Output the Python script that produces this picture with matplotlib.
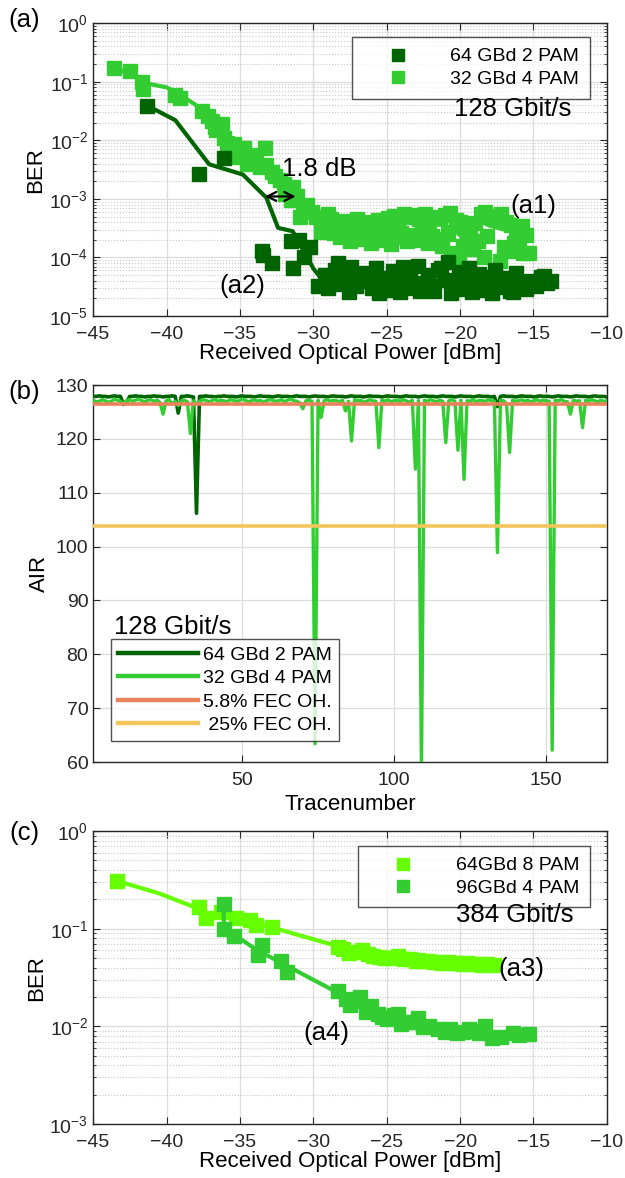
import numpy as np
import matplotlib
matplotlib.use("Agg")
import matplotlib.pyplot as plt

plt.rcParams['font.family'] = ['Liberation Sans', 'DejaVu Sans']
plt.rcParams['mathtext.fontset'] = 'custom'
plt.rcParams['mathtext.rm'] = 'Liberation Sans'
plt.rcParams['mathtext.it'] = 'Liberation Sans:italic'
plt.rcParams['axes.linewidth'] = 1.0

dark = '#006400'
lgreen = '#33CC33'
lime = '#66FF00'
orange = '#E8825A'
yellow = '#F3C55A'

# ---------------- (a) 128 Gbit/s BER vs received power
p32 = [-43.6, -42.5, -41.7, -41.6, -39.4, -39.1, -37.6, -37.2, -36.9, -36.7,
       -36.6, -36.2, -36.1, -35.9, -35.7, -35.4, -35.1, -34.9, -34.7, -34.5,
       -34.2, -33.9, -33.6, -33.3, -33.2, -32.8, -32.6, -32.3, -32.0, -31.9,
       -31.5, -31.4, -31.1, -30.9, -30.7, -30.4, -30.1, -29.8, -29.5, -29.3,
       -29.0, -28.4, -27.5,
       -28.8, -28.4, -28.0, -27.7, -27.3, -27.0, -26.6, -26.3, -25.9, -25.6,
       -25.2, -24.9, -24.5, -24.2, -23.8, -23.5, -23.1, -22.8, -22.4, -22.1,
       -21.7, -21.4, -21.0, -20.7, -20.3, -20.0, -19.7, -19.3, -19.0, -18.6,
       -18.3, -17.9, -17.6, -17.2, -16.9, -16.5, -16.2, -15.8, -15.5,
       -28.6, -28.2, -27.9, -27.5, -27.1, -26.8, -26.4, -26.1, -25.7, -25.4,
       -25.0, -24.7, -24.3, -24.0, -23.6, -23.3, -22.9, -22.6, -22.2, -21.9,
       -21.5, -21.2, -20.8, -20.6, -20.1, -19.8, -19.5, -19.1, -18.8, -18.4,
       -18.2, -17.3, -17.0, -16.7, -16.3, -16.0, -15.7, -15.3]
ber32 = [0.170, 0.155, 0.100, 0.074, 0.060, 0.052, 0.031, 0.026, 0.021, 0.017,
         0.015, 0.019, 0.011, 0.009, 0.0068, 0.0085, 0.0052, 0.0060, 0.0073, 0.0040,
         0.0055, 0.0049, 0.0035, 0.0073, 0.0038, 0.0029, 0.0025, 0.0021, 0.0018, 0.0012,
         0.00095, 0.0016, 0.0011, 0.0005, 0.00074, 0.0008, 0.0006, 0.00049, 0.00027, 0.00038,
         0.00055, 0.00038, 0.0002,
         4.5e-4, 3.8e-4, 4.2e-4, 3.5e-4, 4.0e-4, 4.6e-4, 3.6e-4, 4.1e-4, 3.3e-4, 4.4e-4,
         3.9e-4, 4.8e-4, 5.2e-4, 4.3e-4, 5.5e-4, 4.9e-4, 5.3e-4, 4.5e-4, 5.6e-4, 4.2e-4,
         5.0e-4, 4.7e-4, 5.4e-4, 5.8e-4, 4.4e-4, 4.0e-4, 3.2e-4, 2.6e-4, 3.8e-4, 5.5e-4,
         5.9e-4, 5.2e-4, 4.8e-4, 5.6e-4, 4.1e-4, 3.6e-4, 2.8e-4, 3.4e-4, 2.4e-4,
         2.6e-4, 2.2e-4, 2.9e-4, 1.9e-4, 2.4e-4, 2.1e-4, 2.7e-4, 1.8e-4, 2.3e-4, 2.0e-4,
         2.5e-4, 1.7e-4, 2.2e-4, 2.6e-4, 1.9e-4, 2.4e-4, 2.0e-4, 2.8e-4, 1.8e-4, 2.3e-4,
         2.1e-4, 1.6e-4, 2.5e-4, 1.2e-4, 1.0e-4, 1.6e-4, 2.2e-4, 1.4e-4, 1.9e-4, 1.0e-4,
         2.3e-4, 0.86e-4, 1.5e-4, 1.3e-4, 1.8e-4, 1.7e-4, 1.2e-4, 1.2e-4]

p64 = [-41.3, -37.8, -36.05, -33.5, -33.4, -32.8, -31.5, -31.0, -30.6, -31.4,
       -30.2, -29.7,
       -29.2, -28.8, -28.5, -28.1, -27.8, -27.4, -27.1, -26.7, -26.4, -26.0,
       -25.7, -25.3, -25.0, -24.6, -24.3, -23.9, -23.6, -23.2, -22.9, -22.5,
       -22.2, -21.8, -21.5, -21.1, -20.8, -20.4, -20.1, -19.7, -19.4, -19.0,
       -18.7, -18.3, -18.0, -17.6, -17.3, -16.9, -16.6, -16.2, -15.9, -15.5,
       -15.2, -14.8, -14.5, -14.1, -13.8,
       -29.0, -28.3, -27.6, -26.9, -26.2, -25.5, -24.8, -24.1, -23.4, -22.7,
       -22.0, -21.3, -20.6, -19.9, -19.2, -18.5, -17.8, -17.1, -16.4, -15.7,
       -14.3]
ber64 = [0.039, 0.0027, 0.005, 1.3e-4, 1.1e-4, 7.9e-5, 1.9e-4, 2.0e-4, 1.0e-4, 6.5e-5,
         1.5e-4, 3.2e-5,
         5.0e-5, 4.2e-5, 6.0e-5, 3.5e-5, 4.8e-5, 7.0e-5, 3.2e-5, 5.5e-5, 4.0e-5, 3.0e-5,
         6.5e-5, 3.8e-5, 2.8e-5, 5.8e-5, 3.4e-5, 6.8e-5, 4.5e-5, 3.0e-5, 7.2e-5, 3.6e-5,
         5.0e-5, 2.7e-5, 6.2e-5, 4.1e-5, 8.5e-5, 3.3e-5, 5.6e-5, 2.9e-5, 6.6e-5, 3.9e-5,
         5.2e-5, 2.8e-5, 4.6e-5, 6.0e-5, 3.1e-5, 4.4e-5, 2.7e-5, 5.4e-5, 3.5e-5, 2.9e-5,
         4.0e-5, 3.2e-5, 4.6e-5, 3.6e-5, 3.9e-5,
         3.0e-5, 8.0e-5, 2.6e-5, 4.2e-5, 5.0e-5, 2.5e-5, 4.5e-5, 2.6e-5, 5.3e-5, 2.7e-5,
         3.3e-5, 6.5e-5, 2.5e-5, 4.3e-5, 2.6e-5, 3.4e-5, 2.5e-5, 3.8e-5, 2.6e-5, 3.6e-5,
         4.8e-5]

fit32_p = [-43.6, -42.5, -41.5, -40.0, -39.3, -38.0, -37.0, -35.4, -33.8, -32.4,
           -31.0, -29.6, -28.0, -26.0, -24.0, -22.0, -21.0, -20.0, -19.5, -19.0,
           -18.5, -18.0, -17.0, -16.0]
fit32_ber = [0.17, 0.14, 0.095, 0.08, 0.065, 0.040, 0.015, 0.0070, 0.0038, 0.0018,
             0.00085, 0.00055, 0.00045, 0.00042, 0.00042, 0.00038, 0.00035, 0.00025, 0.00012, 0.00030,
             0.00040, 0.00035, 0.00030, 0.00025]
fit64_p = [-41.3, -39.4, -37.1, -34.8, -33.2, -32.4, -31.4, -30.0, -29.5, -28.3,
           -26.9, -26.1, -25.3, -24.0, -23.0, -22.0, -21.0, -20.0, -19.0, -18.0,
           -17.0, -16.0, -15.0, -13.9]
fit64_ber = [0.039, 0.022, 0.0039, 0.0026, 0.00105, 0.00032, 0.00028, 6.5e-5, 4.5e-5, 7.6e-5,
             4.0e-5, 6.8e-5, 3.1e-5, 3.4e-5, 4.0e-5, 3.6e-5, 3.8e-5, 3.5e-5, 3.7e-5, 3.4e-5,
             3.6e-5, 3.5e-5, 3.6e-5, 3.6e-5]

# ---------------- (b) AIR per trace
trace = list(range(1, 171))
air32 = [127.2, 126.9, 127.0, 127.3, 127.1, 126.8, 127.0, 127.4, 127.2, 127.0,
         126.6, 127.1, 127.3, 127.0, 127.2, 127.4, 127.1, 126.9, 127.2, 127.3,
         127.0, 127.2, 126.8, 124.6, 127.1, 127.3, 126.5, 127.0, 126.2, 127.1,
         127.2, 126.9, 121.0, 127.1, 126.5, 127.0, 127.3, 127.2, 126.9, 127.1,
         127.4, 127.0, 127.2, 127.1, 126.9, 127.3, 127.2, 127.0, 127.1, 127.4,
         127.2, 126.9, 127.1, 127.3, 127.0, 127.2, 126.8, 127.1, 127.3, 127.2,
         127.0, 127.1, 127.3, 126.9, 127.2, 127.4, 127.1, 127.0, 126.7, 125.6,
         127.1, 127.2, 127.0, 63.4, 127.2, 124.0, 127.1, 127.3, 127.0, 127.2,
         127.1, 126.9, 127.2, 125.2, 127.0, 119.6, 127.3, 127.1, 127.2, 126.8,
         127.0, 127.3, 127.1, 127.0, 118.4, 127.2, 127.0, 127.3, 126.9, 127.1,
         127.2, 127.0, 127.3, 127.1, 126.8, 127.2, 114.4, 127.1, 58.0, 127.2,
         127.0, 127.3, 127.1, 126.9, 127.2, 127.0, 119.3, 127.1, 127.3, 127.0,
         117.9, 127.2, 112.5, 127.1, 127.0, 127.3, 126.9, 127.2, 127.1, 127.0,
         127.3, 127.1, 127.0, 98.9, 127.2, 127.1, 126.5, 117.5, 127.2, 127.0,
         127.1, 127.3, 127.0, 127.2, 126.9, 127.1, 127.3, 127.0, 127.2, 127.1,
         127.0, 62.2, 127.2, 127.1, 127.3, 127.0, 126.9, 124.6, 127.2, 127.0,
         127.1, 122.1, 127.2, 127.0, 127.3, 127.1, 126.9, 127.2, 127.0, 127.1]
air64 = [127.9, 127.9, 128.0, 127.9, 127.9, 127.8, 127.9, 128.0, 127.9, 127.9,
         126.4, 126.8, 127.9, 127.9, 128.0, 127.9, 127.9, 127.8, 127.9, 127.9,
         128.0, 127.9, 127.9, 127.8, 127.9, 127.9, 128.0, 127.9, 124.8, 127.9,
         127.9, 128.0, 127.9, 127.8, 106.2, 127.9, 127.9, 128.0, 127.9, 127.9,
         127.8, 127.9, 127.9, 128.0, 127.9, 127.9, 127.9, 127.8, 127.9, 128.0,
         127.9, 127.9, 127.9, 127.8, 127.9, 128.0, 127.9, 127.9, 127.9, 127.8,
         127.9, 128.0, 127.9, 127.9, 127.9, 127.8, 127.9, 128.0, 127.9, 127.9,
         127.9, 127.8, 127.9, 128.0, 127.9, 127.9, 127.9, 127.8, 127.9, 128.0,
         127.9, 127.9, 127.9, 127.8, 127.9, 128.0, 127.9, 127.9, 127.9, 127.8,
         127.9, 128.0, 127.9, 127.9, 127.9, 127.8, 127.9, 128.0, 127.9, 127.9,
         127.9, 127.8, 127.9, 128.0, 127.9, 127.9, 127.9, 127.8, 127.9, 128.0,
         127.9, 127.9, 127.9, 127.8, 127.9, 128.0, 127.9, 127.9, 127.9, 127.8,
         127.9, 128.0, 127.9, 127.9, 127.9, 127.8, 127.9, 128.0, 127.9, 127.9,
         127.9, 127.8, 127.9, 126.0, 127.9, 128.0, 127.9, 127.9, 127.9, 127.8,
         127.9, 128.0, 127.9, 127.9, 127.9, 127.8, 127.9, 128.0, 127.9, 127.9,
         127.9, 127.8, 127.9, 128.0, 127.9, 127.9, 127.9, 127.8, 127.9, 128.0,
         127.9, 127.9, 127.9, 127.8, 127.9, 128.0, 127.9, 127.9, 127.9, 127.8]
fec58 = 126.4
fec25 = 103.9

# ---------------- (c) 384 Gbit/s
p8pam = [-43.4, -37.8, -37.3, -36.3, -35.3, -34.3, -33.9, -32.8, -28.3, -27.6,
         -26.7, -25.9, -25.1, -24.2, -23.4, -22.9, -22.2, -21.5, -20.8, -20.2,
         -19.5, -18.8, -18.2, -17.7,
         -28.0, -27.2, -26.3, -25.5, -24.6, -23.8, -23.0, -22.5, -21.8, -21.2,
         -20.5, -19.8, -19.2, -18.5]
ber8pam = [0.31, 0.166, 0.13, 0.15, 0.13, 0.123, 0.11, 0.105, 0.065, 0.056,
           0.060, 0.053, 0.050, 0.052, 0.049, 0.048, 0.047, 0.046, 0.046, 0.045,
           0.045, 0.044, 0.044, 0.043,
           0.062, 0.058, 0.055, 0.051, 0.050, 0.049, 0.047, 0.047, 0.046, 0.045,
           0.045, 0.044, 0.044, 0.043]
fit8_p = [-43.4, -40.5, -37.8, -37.0, -36.0, -34.5, -32.8, -30.5, -28.3, -26.0,
          -24.0, -22.0, -20.0, -17.7]
fit8_ber = [0.31, 0.23, 0.16, 0.14, 0.14, 0.12, 0.103, 0.082, 0.066, 0.056,
            0.051, 0.047, 0.045, 0.043]
p4pam = [-36.1, -36.1, -35.4, -33.8, -33.5, -32.2, -31.8, -28.3, -27.5, -26.8,
         -26.4, -25.3, -24.2, -24.0, -22.9, -22.1, -20.7, -19.4, -18.3, -17.8,
         -16.4, -15.3,
         -27.8, -27.0, -26.1, -25.6, -25.0, -24.5, -23.6, -23.2, -22.5, -21.5,
         -21.0, -20.2, -19.8, -19.0, -18.7, -17.2, -16.0]
ber4pam = [0.18, 0.10, 0.085, 0.054, 0.068, 0.047, 0.036, 0.023, 0.0166, 0.020,
           0.014, 0.0126, 0.0135, 0.0107, 0.0121, 0.0102, 0.0093, 0.0093, 0.0101, 0.0076,
           0.0086, 0.0083,
           0.019, 0.018, 0.016, 0.0135, 0.012, 0.013, 0.011, 0.0112, 0.0098, 0.0093,
           0.0088, 0.0086, 0.0088, 0.0090, 0.0085, 0.0078, 0.0082]
fit4_p = [-36.1, -36.1, -35.4, -33.8, -32.2, -30.0, -28.3, -27.0, -25.5, -24.0,
          -22.5, -21.0, -19.5, -18.0, -16.5, -15.3]
fit4_ber = [0.18, 0.11, 0.087, 0.060, 0.045, 0.030, 0.022, 0.017, 0.0135, 0.0115,
            0.0105, 0.0095, 0.0092, 0.0088, 0.0085, 0.0083]

TICK = 14
LAB = 16
ANN = 18.5
LEG = 14


def matlab_axes(ax, logy=False):
    ax.tick_params(which='both', direction='in', top=True, right=True,
                   labelsize=TICK, color='#262626', labelcolor='#262626')
    ax.tick_params(which='major', length=5)
    ax.tick_params(which='minor', length=2.5)
    ax.tick_params(axis='x', pad=7)
    ax.grid(True, which='major', color='#dcdcdc', lw=0.9)
    if logy:
        ax.grid(True, which='minor', axis='y', color='#c8c8c8', ls=':', lw=0.8)
    ax.set_axisbelow(True)
    for s in ax.spines.values():
        s.set_color('#262626')


fig = plt.figure(figsize=(6.25, 11.78), dpi=100)
axa = fig.add_axes([0.149, 0.7317, 0.822, 0.2487])
axb = fig.add_axes([0.149, 0.3531, 0.822, 0.3200])
axc = fig.add_axes([0.149, 0.0458, 0.822, 0.2487])

# (a)
axa.set_yscale('log')
matlab_axes(axa, logy=True)
ms = 9.5
axa.plot(p32, ber32, 's', color=lgreen, ms=ms, label='32 GBd 4 PAM', zorder=3)
axa.plot(fit32_p, fit32_ber, '-', color=lgreen, lw=3, zorder=3)
axa.plot(p64, ber64, 's', color=dark, ms=ms, label='64 GBd 2 PAM', zorder=4)
axa.plot(fit64_p, fit64_ber, '-', color=dark, lw=3, zorder=4)
axa.set_xlim(-45, -10)
axa.set_ylim(1e-5, 1)
axa.set_xticks(np.arange(-45, -9, 5))
axa.set_xlabel('Received Optical Power [dBm]', fontsize=LAB, labelpad=0)
axa.set_ylabel('BER', fontsize=LAB, labelpad=2)
h, l = axa.get_legend_handles_labels()
lg = axa.legend(h[::-1], l[::-1], loc='upper right', bbox_to_anchor=(0.967, 0.952),
                fontsize=LEG, frameon=True, fancybox=False, edgecolor='#262626',
                handlelength=3.6, handletextpad=0.9, labelspacing=0.25,
                borderpad=0.55, borderaxespad=0, markerscale=0.9)
lg.get_frame().set_linewidth(1.0)
axa.annotate('', xy=(-33.3, 1.1e-3), xytext=(-31.2, 1.1e-3),
             arrowprops=dict(arrowstyle='<->', color='black', lw=1.6,
                             mutation_scale=16, shrinkA=0, shrinkB=0), zorder=6)
axa.text(-32.1, 3.2e-3, '1.8 dB', fontsize=ANN, va='center', ha='left', zorder=6)
axa.text(-16.6, 7.5e-4, '(a1)', fontsize=ANN, va='center', ha='left', zorder=6)
axa.text(-36.4, 3.2e-5, '(a2)', fontsize=ANN, va='center', ha='left', zorder=6)
axa.text(-20.4, 3.4e-2, '128 Gbit/s', fontsize=ANN, va='center', ha='left', zorder=6)

# (b)
matlab_axes(axb)
axb.plot(trace, air64, '-', color=dark, lw=2.6, label='64 GBd 2 PAM', zorder=3)
axb.plot(trace, air32, '-', color=lgreen, lw=2.4, label='32 GBd 4 PAM', zorder=3)
axb.axhline(fec58, color=orange, lw=2.6, label='5.8% FEC OH.', zorder=4)
axb.axhline(fec25, color=yellow, lw=2.6, label=' 25% FEC OH.', zorder=4)
axb.set_xlim(1, 170)
axb.set_ylim(60, 130)
axb.set_xticks([50, 100, 150])
axb.set_yticks(np.arange(60, 131, 10))
axb.set_xlabel('Tracenumber', fontsize=LAB, labelpad=4)
axb.set_ylabel('AIR', fontsize=LAB, labelpad=4)
lg = axb.legend(loc='lower left', bbox_to_anchor=(0.035, 0.056), fontsize=LEG,
                frameon=True, fancybox=False, edgecolor='#262626',
                handlelength=4.1, handletextpad=0.3, labelspacing=0.3,
                borderpad=0.35, borderaxespad=0)
for ln in lg.get_lines():
    ln.set_linewidth(3.2)
lg.get_frame().set_linewidth(1.0)
axb.text(0.04, 0.357, '128 Gbit/s', transform=axb.transAxes, fontsize=ANN,
         va='center', ha='left')

# (c)
axc.set_yscale('log')
matlab_axes(axc, logy=True)
axc.plot(p8pam, ber8pam, 's', color=lime, ms=ms, label='64GBd 8 PAM', zorder=3)
axc.plot(fit8_p, fit8_ber, '-', color=lime, lw=3, zorder=3)
axc.plot(p4pam, ber4pam, 's', color=lgreen, ms=ms, label='96GBd 4 PAM', zorder=4)
axc.plot(fit4_p, fit4_ber, '-', color=lgreen, lw=3, zorder=4)
axc.set_xlim(-45, -10)
axc.set_ylim(1e-3, 1)
axc.set_xticks(np.arange(-45, -9, 5))
axc.set_xlabel('Received Optical Power [dBm]', fontsize=LAB, labelpad=0)
axc.set_ylabel('BER', fontsize=LAB, labelpad=2)
lg = axc.legend(loc='upper right', bbox_to_anchor=(0.967, 0.949),
                fontsize=LEG, frameon=True, fancybox=False, edgecolor='#262626',
                handlelength=3.6, handletextpad=0.9, labelspacing=0.25,
                borderpad=0.55, borderaxespad=0, markerscale=0.9)
lg.get_frame().set_linewidth(1.0)
axc.text(-17.4, 0.039, '(a3)', fontsize=ANN, va='center', ha='left', zorder=6)
axc.text(-30.7, 0.0085, '(a4)', fontsize=ANN, va='center', ha='left', zorder=6)
axc.text(-20.3, 0.138, '384 Gbit/s', fontsize=ANN, va='center', ha='left', zorder=6)

for lab, ypx in [('(a)', 20), ('(b)', 392), ('(c)', 833)]:
    fig.text(24 / 625, 1 - ypx / 1178, lab, fontsize=ANN, ha='center', va='center')

fig.savefig('out.png', dpi=100)
